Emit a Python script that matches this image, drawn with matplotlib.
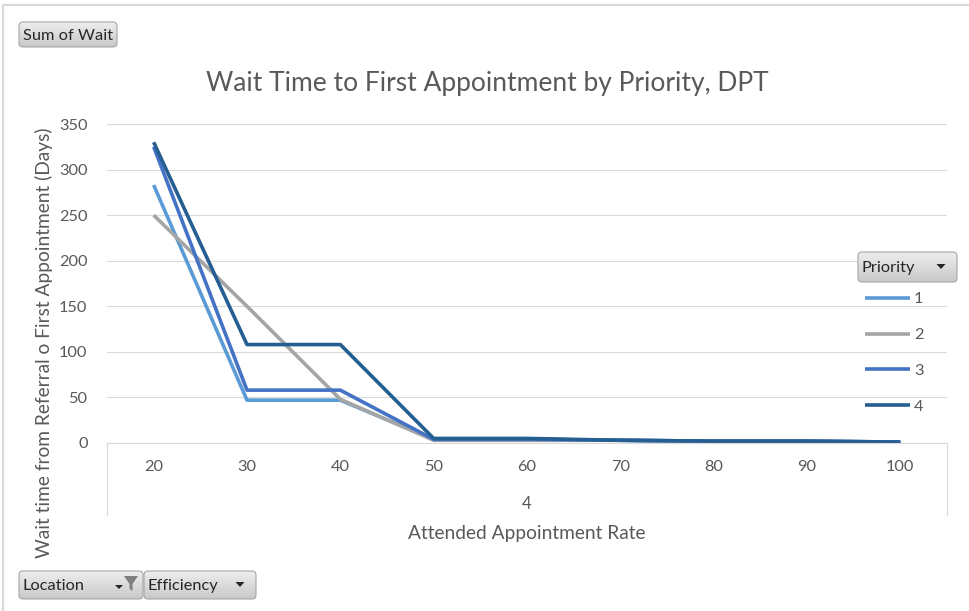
import matplotlib
matplotlib.use("Agg")
from matplotlib import pyplot as plt
from matplotlib.patches import FancyBboxPatch, Polygon
import numpy as np

plt.rcParams['font.family'] = ['Lato', 'DejaVu Sans']

# data
rates = ["20", "30", "40", "50", "60", "70", "80", "90", "100"]
priorities = ["1", "2", "3", "4"]
wait_p1 = [283, 47, 47, 4, 4, 3, 2, 2, 1]
wait_p2 = [250, 150, 48, 3, 3, 3, 2, 2, 1]
wait_p3 = [325, 58, 58, 4, 4, 3, 2, 2, 1]
wait_p4 = [330, 108, 108, 5, 5, 3, 2, 2, 1]
colors = ["#5B9BD5", "#A5A5A5", "#4472C4", "#255E91"]

W, H = 969, 611
TXT = "#595959"

fig = plt.figure(figsize=(W / 100, H / 100), dpi=100)

def ax_rect(x0, y0, x1, y1):
    # pixel box (top-left origin) -> figure fraction
    return [x0 / W, 1 - y1 / H, (x1 - x0) / W, (y1 - y0) / H]

ax = fig.add_axes(ax_rect(107, 124, 947, 443))
x = np.arange(len(rates))
for vals, c, lab in zip([wait_p1, wait_p2, wait_p3, wait_p4], colors, priorities):
    ax.plot(x, vals, color=c, lw=2.6, label=lab, solid_capstyle="butt")

ax.set_xlim(-0.5, len(rates) - 0.5)
ax.set_ylim(0, 350)
ax.set_yticks(np.arange(0, 351, 50))
ax.set_xticks(x)
ax.set_xticklabels(rates)
ax.yaxis.grid(True, color="#D9D9D9", lw=0.8)
ax.set_axisbelow(True)
for s in ["top", "right", "left"]:
    ax.spines[s].set_visible(False)
ax.spines["bottom"].set_color("#D9D9D9")
ax.spines["bottom"].set_linewidth(0.8)
ax.tick_params(axis="both", length=0, labelsize=11.8, labelcolor=TXT)
ax.tick_params(axis="y", pad=14)
ax.tick_params(axis="x", pad=12)

leg = ax.legend(loc="upper left", bbox_to_anchor=(865 / W, 1 - 292 / H),
                bbox_transform=fig.transFigure, frameon=False, fontsize=11.8,
                handlelength=2.75, handletextpad=0.25, labelspacing=1.3,
                borderaxespad=0, borderpad=0)
for t in leg.get_texts():
    t.set_color(TXT)

# overlay in pixel coordinates for the pivot-chart decorations
ov = fig.add_axes([0, 0, 1, 1], zorder=5)
ov.set_xlim(0, W)
ov.set_ylim(H, 0)
ov.axis("off")
ov.patch.set_alpha(0)

# outer chart border (top and left visible)
ov.plot([3, 3, W], [H, 5, 5], color="#D9D9D9", lw=1.5)

# category axis group lines
ov.plot([107, 107], [443, 515], color="#D9D9D9", lw=0.8)
ov.plot([947, 947], [443, 515], color="#D9D9D9", lw=0.8)

grad = np.linspace(0, 1, 64).reshape(-1, 1)
gcmap = matplotlib.colors.LinearSegmentedColormap.from_list("g", ["#EDEDED", "#C9C9C9"])

def button(x0, y0, x1, y1, label, arrow=False, funnel=False):
    p = FancyBboxPatch((x0, y0), x1 - x0, y1 - y0,
                       boxstyle="round,pad=0,rounding_size=4",
                       fc="none", ec="#A6A6A6", lw=0.8, zorder=3)
    ov.add_patch(p)
    im = ov.imshow(grad, cmap=gcmap, extent=[x0, x1, y1, y0],
                   aspect="auto", zorder=2, interpolation="bilinear")
    im.set_clip_path(p)
    ov.text(x0 + 4, (y0 + y1) / 2 + 1, label, ha="left", va="center",
            fontsize=11.8, color="#262626", zorder=4)
    if arrow:
        ax_ = x1 - 16
        ay = (y0 + y1) / 2 - 1
        ov.add_patch(Polygon([[ax_ - 4.5, ay - 2], [ax_ + 4.5, ay - 2], [ax_, ay + 3]],
                             closed=True, fc="#262626", ec="none", zorder=4))
    if funnel:
        fx = x1 - 12
        fy = y0 + 5
        ov.add_patch(Polygon([[fx - 7, fy], [fx + 7, fy], [fx + 1.5, fy + 8],
                              [fx + 1.5, fy + 15], [fx - 1.5, fy + 13], [fx - 1.5, fy + 8]],
                             closed=True, fc="#7F7F7F", ec="none", zorder=4))
        ov.add_patch(Polygon([[fx - 16, fy + 9], [fx - 8, fy + 9], [fx - 12, fy + 13]],
                             closed=True, fc="#262626", ec="none", zorder=4))

button(19, 22, 117, 47, "Sum of Wait")
button(19, 571, 143, 599, "Location", funnel=True)
button(144, 571, 256, 599, "Efficiency", arrow=True)
button(858, 252, 957, 282, "Priority", arrow=True)

# titles and axis labels
fig.text(487 / W, 1 - 84 / H, "Wait Time to First Appointment by Priority, DPT",
         ha="center", va="center", fontsize=19, color=TXT)
fig.text(44 / W, 1 - 343 / H, "Wait time from Referral o First Appointment (Days)",
         ha="center", va="center", rotation=90, fontsize=13.8, color=TXT)
fig.text(527 / W, 1 - 504 / H, "4", ha="center", va="center",
         fontsize=12, color=TXT)
fig.text(527 / W, 1 - 533 / H, "Attended Appointment Rate", ha="center",
         va="center", fontsize=13.8, color=TXT)

fig.savefig("out.png", dpi=100)
